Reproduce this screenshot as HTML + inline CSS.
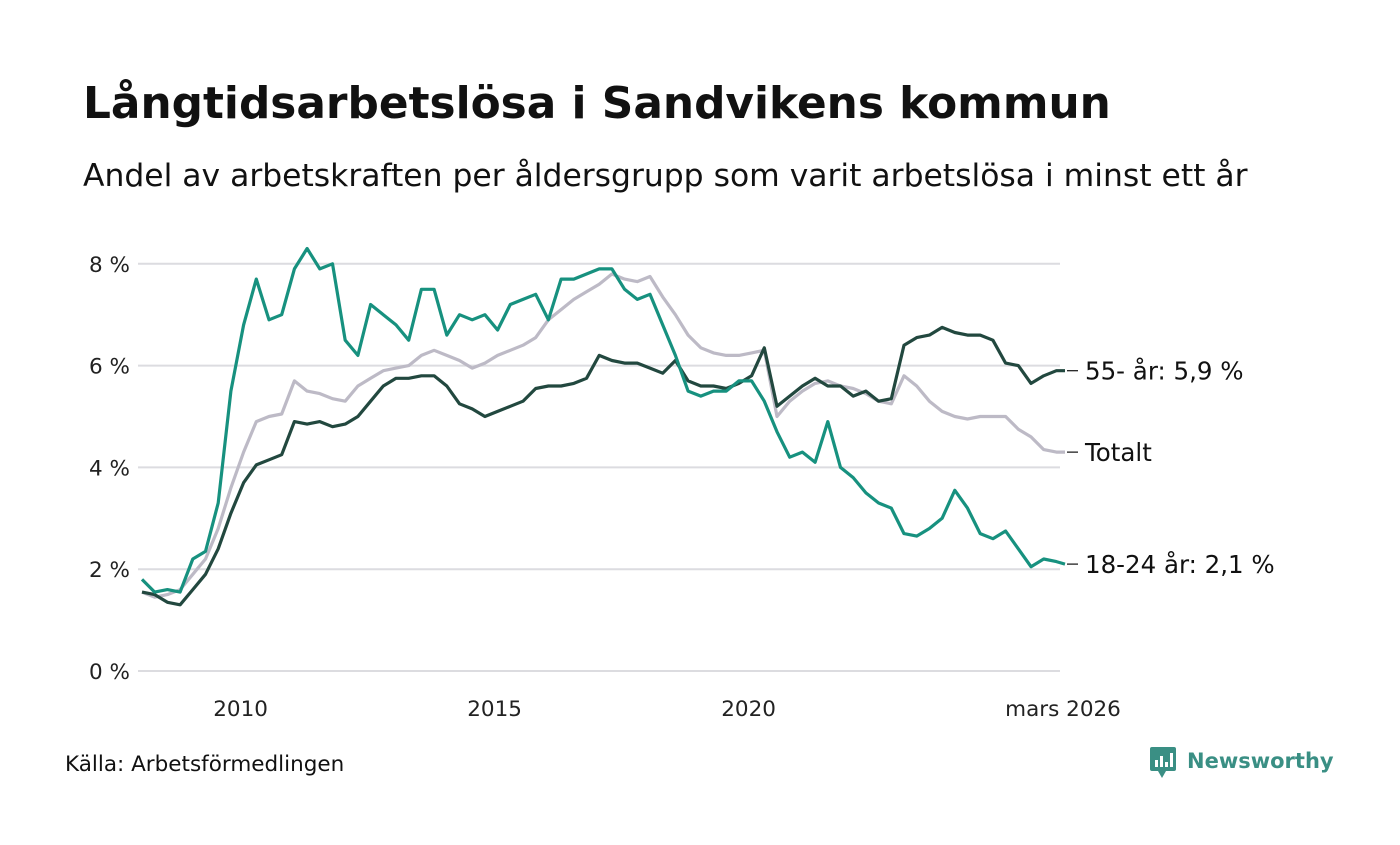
<!DOCTYPE html>
<html><head><meta charset="utf-8"><style>
body{margin:0;background:#fff;font-family:"Liberation Sans","DejaVu Sans",sans-serif;}
svg text{font-family:"DejaVu Sans","Liberation Sans",sans-serif;}
</style></head><body>
<svg id="c" width="1400" height="840" viewBox="0 0 1400 840" xmlns="http://www.w3.org/2000/svg">
<rect width="1400" height="840" fill="#fff"/>
<text x="83" y="118" font-size="43.8" font-weight="bold" fill="#111">Långtidsarbetslösa i Sandvikens kommun</text>
<text x="83" y="186" font-size="31.4" fill="#111">Andel av arbetskraften per åldersgrupp som varit arbetslösa i minst ett år</text>
<g id="grid"></g><g id="series"></g><g id="labels"></g>
<text x="65" y="771" font-size="21.5" fill="#111">Källa: Arbetsförmedlingen</text>
<g>
<rect x="1150" y="747" width="26" height="24" rx="2" fill="#3a8f84"/>
<polygon points="1158,771 1166,771 1162,778" fill="#3a8f84"/>
<rect x="1155" y="760" width="3" height="7" fill="#fff"/><rect x="1160" y="756" width="3" height="11" fill="#fff"/><rect x="1165" y="762" width="3" height="5" fill="#fff"/><rect x="1170" y="753" width="3" height="14" fill="#fff"/>
<text x="1187" y="768" font-size="21" font-weight="bold" fill="#3a8f84">Newsworthy</text>
</g>
</svg>
<script>
const yTicks=[0,2,4,6,8];
const xTickYears=[2010,2015,2020];
const xTickLabels=["2010","2015","2020","mars 2026"];
const startYear=2008;
const youth=[1.8,1.55,1.6,1.55,2.2,2.35,3.3,5.5,6.8,7.7,6.9,7.0,7.9,8.3,7.9,8.0,6.5,6.2,7.2,7.0,6.8,6.5,7.5,7.5,6.6,7.0,6.9,7.0,6.7,7.2,7.3,7.4,6.9,7.7,7.7,7.8,7.9,7.9,7.5,7.3,7.4,6.8,6.2,5.5,5.4,5.5,5.5,5.7,5.7,5.3,4.7,4.2,4.3,4.1,4.9,4.0,3.8,3.5,3.3,3.2,2.7,2.65,2.8,3.0,3.55,3.2,2.7,2.6,2.75,2.4,2.05,2.2,2.15,2.1];
const senior=[1.55,1.5,1.35,1.3,1.6,1.9,2.4,3.1,3.7,4.05,4.15,4.25,4.9,4.85,4.9,4.8,4.85,5.0,5.3,5.6,5.75,5.75,5.8,5.8,5.6,5.25,5.15,5.0,5.1,5.2,5.3,5.55,5.6,5.6,5.65,5.75,6.2,6.1,6.05,6.05,5.95,5.85,6.1,5.7,5.6,5.6,5.55,5.65,5.8,6.35,5.2,5.4,5.6,5.75,5.6,5.6,5.4,5.5,5.3,5.35,6.4,6.55,6.6,6.75,6.65,6.6,6.6,6.5,6.05,6.0,5.65,5.8,5.9,5.9];
const total=[1.55,1.45,1.5,1.6,1.9,2.2,2.8,3.6,4.3,4.9,5.0,5.05,5.7,5.5,5.45,5.35,5.3,5.6,5.75,5.9,5.95,6.0,6.2,6.3,6.2,6.1,5.95,6.05,6.2,6.3,6.4,6.55,6.9,7.1,7.3,7.45,7.6,7.8,7.7,7.65,7.75,7.35,7.0,6.6,6.35,6.25,6.2,6.2,6.25,6.3,5.0,5.3,5.5,5.65,5.7,5.6,5.55,5.45,5.3,5.25,5.8,5.6,5.3,5.1,5.0,4.95,5.0,5.0,5.0,4.75,4.6,4.35,4.3,4.3];
const labelTexts=["55- år: 5,9 %","Totalt","18-24 år: 2,1 %"];
const NS="http://www.w3.org/2000/svg";
function tOf(i,n){return i===n-1?2026.17:startYear+i*0.25;}
function xs(t){return 142+(t-startYear)*50.8;}
function ys(v){return 671-v*50.9;}
function mk(tag,attrs,parent){const e=document.createElementNS(NS,tag);for(const k in attrs)e.setAttribute(k,attrs[k]);parent.appendChild(e);return e;}
const grid=document.getElementById('grid');
yTicks.forEach(v=>{
 const l=mk('line',{x1:138,x2:1060,y1:ys(v),y2:ys(v),stroke:'#dcdce0','stroke-width':2},grid);
 
 
 const t=mk('text',{x:130,y:ys(v)+8,'font-size':21.5,fill:'#222','text-anchor':'end'},grid);
 t.textContent=v+' %';
 
 
});
xTickLabels.forEach((s,i)=>{
 const x=i<xTickYears.length?xs(xTickYears[i])-3:1063;
 const t=mk('text',{x:x,y:716,'font-size':21.5,fill:'#222','text-anchor':'middle'},grid);
 t.textContent=s;
 
 
});
const ser=document.getElementById('series');
[[total,'#bdbac6','line-totalt'],[senior,'#22483f','line-55-ar'],[youth,'#17917f','line-18-24-ar']].forEach(([d,c,n])=>{
 const pts=d.map((v,i)=>xs(tOf(i,d.length)).toFixed(1)+','+ys(v).toFixed(1)).join(' ');
 const p=mk('polyline',{points:pts,fill:'none',stroke:c,'stroke-width':3.2,'stroke-linejoin':'round'},ser);
 
 
});
const lab=document.getElementById('labels');
[senior,total,youth].forEach((d,i)=>{
 const y=ys(d[d.length-1]);
 mk('line',{x1:1067,x2:1078,y1:y,y2:y,stroke:'#222','stroke-width':1.3},lab);
 const t=mk('text',{x:1085,y:y+9,'font-size':24.5,fill:'#111'},lab);
 t.textContent=labelTexts[i];
 
 
});
</script>
</body></html>
